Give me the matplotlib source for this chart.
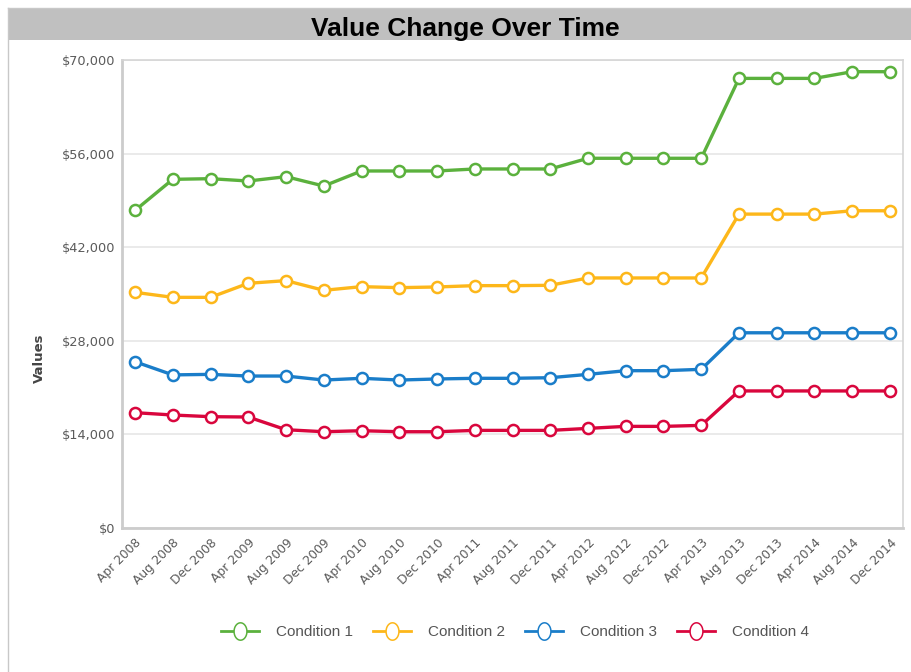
import numpy as np
import matplotlib.pyplot as plt
from matplotlib.patches import Rectangle
from matplotlib.lines import Line2D
from matplotlib.path import Path
from matplotlib.ticker import FuncFormatter

# Data
dates = ['Apr 2008', 'Aug 2008', 'Dec 2008', 'Apr 2009', 'Aug 2009', 'Dec 2009',
         'Apr 2010', 'Aug 2010', 'Dec 2010', 'Apr 2011', 'Aug 2011', 'Dec 2011',
         'Apr 2012', 'Aug 2012', 'Dec 2012', 'Apr 2013', 'Aug 2013', 'Dec 2013',
         'Apr 2014', 'Aug 2014', 'Dec 2014']

condition_1 = [47500, 52150, 52250, 51900, 52550, 51150, 53400, 53400, 53400, 53700,
               53700, 53700, 55300, 55300, 55300, 55300, 67250, 67250, 67250, 68250, 68250]
condition_2 = [35250, 34500, 34500, 36600, 37000, 35550, 36100, 35950, 36050, 36250,
               36250, 36300, 37400, 37400, 37400, 37400, 46950, 46950, 46950, 47450, 47450]
condition_3 = [24870, 22900, 22980, 22730, 22730, 22130, 22390, 22130, 22290, 22390,
               22390, 22480, 22980, 23530, 23530, 23730, 29200, 29200, 29200, 29200, 29200]
condition_4 = [17250, 16900, 16650, 16600, 14700, 14400, 14550, 14400, 14400, 14600,
               14600, 14600, 14900, 15200, 15200, 15350, 20500, 20500, 20500, 20500, 20500]

series_names = ['Condition 1', 'Condition 2', 'Condition 3', 'Condition 4']
series_values = [condition_1, condition_2, condition_3, condition_4]
colors = ['#5bb13d', '#fdb71a', '#1a7dc9', '#d9063d']

y_ticks = [0, 14000, 28000, 42000, 56000, 70000]

fig = plt.figure(figsize=(9.11, 6.72), dpi=100)
W, H = 911, 672

# Gray title bar and thin outer border
fig.patches.append(Rectangle((8 / W, 1 - 40 / H), 1 - 8 / W, 32 / H,
                             transform=fig.transFigure, facecolor='#c0c0c0',
                             edgecolor='none', zorder=0))
fig.lines.append(Line2D([8 / W, 8 / W], [0, 1 - 8 / H], transform=fig.transFigure,
                        color='#c8c8c8', lw=1))
fig.lines.append(Line2D([8 / W, 1], [1 - 8 / H, 1 - 8 / H], transform=fig.transFigure,
                        color='#c8c8c8', lw=1))
fig.text(465 / W, 1 - 36 / H, 'Value Change Over Time', ha='center', va='baseline',
         fontsize=19, fontweight='bold', family='Liberation Sans', color='black')

ax = fig.add_axes([122 / W, 1 - 528 / H, (903 - 122) / W, (528 - 60) / H])

x = list(range(len(dates)))
for name, vals, c in zip(series_names, series_values, colors):
    ax.plot(x, vals, color=c, lw=2.4, marker='o', markersize=8,
            markerfacecolor='white', markeredgecolor=c, markeredgewidth=1.8,
            zorder=3)

ax.set_xlim(-0.345, len(dates) - 1 + 0.345)
ax.set_ylim(0, 70000)
ax.set_yticks(y_ticks)
ax.yaxis.set_major_formatter(FuncFormatter(lambda v, p: '${:,.0f}'.format(v)))
ax.set_xticks(x)
ax.set_xticklabels(dates, rotation=45, ha='right', rotation_mode='anchor')

ax.grid(axis='y', color='#e6e6e6', lw=1.2)
ax.set_axisbelow(True)
ax.tick_params(length=0, labelsize=9.3, colors='#5a5a5a', pad=5)
ax.tick_params(axis='x', labelsize=8.8, pad=6)

for side in ['top', 'right']:
    ax.spines[side].set_color('#d5d5d5')
    ax.spines[side].set_linewidth(1.2)
for side in ['left', 'bottom']:
    ax.spines[side].set_color('#cccccc')
    ax.spines[side].set_linewidth(2)

fig.text(39 / W, 1 - 358 / H, 'Values', rotation=90, ha='center', va='center',
         fontsize=9.5, fontweight='bold', color='#444444')

# Legend with tall oval markers, as in the reference
t = np.linspace(0, 2 * np.pi, 60)
oval = Path(np.column_stack([0.37 * np.cos(t), 0.5 * np.sin(t)]), closed=True)
handles = [Line2D([], [], color=c, lw=2.0, marker=oval, markersize=12.5,
                  markerfacecolor='white', markeredgecolor=c, markeredgewidth=1.1)
           for c in colors]
leg = fig.legend(handles, series_names, loc='center', bbox_to_anchor=(515 / W, 1 - 632 / H),
                 ncol=4, frameon=False, handlelength=2.5, columnspacing=1.3,
                 handletextpad=1.1, prop={'family': 'Liberation Sans', 'size': 11})
for txt in leg.get_texts():
    txt.set_color('#555555')

fig.savefig('out.png', dpi=100)
